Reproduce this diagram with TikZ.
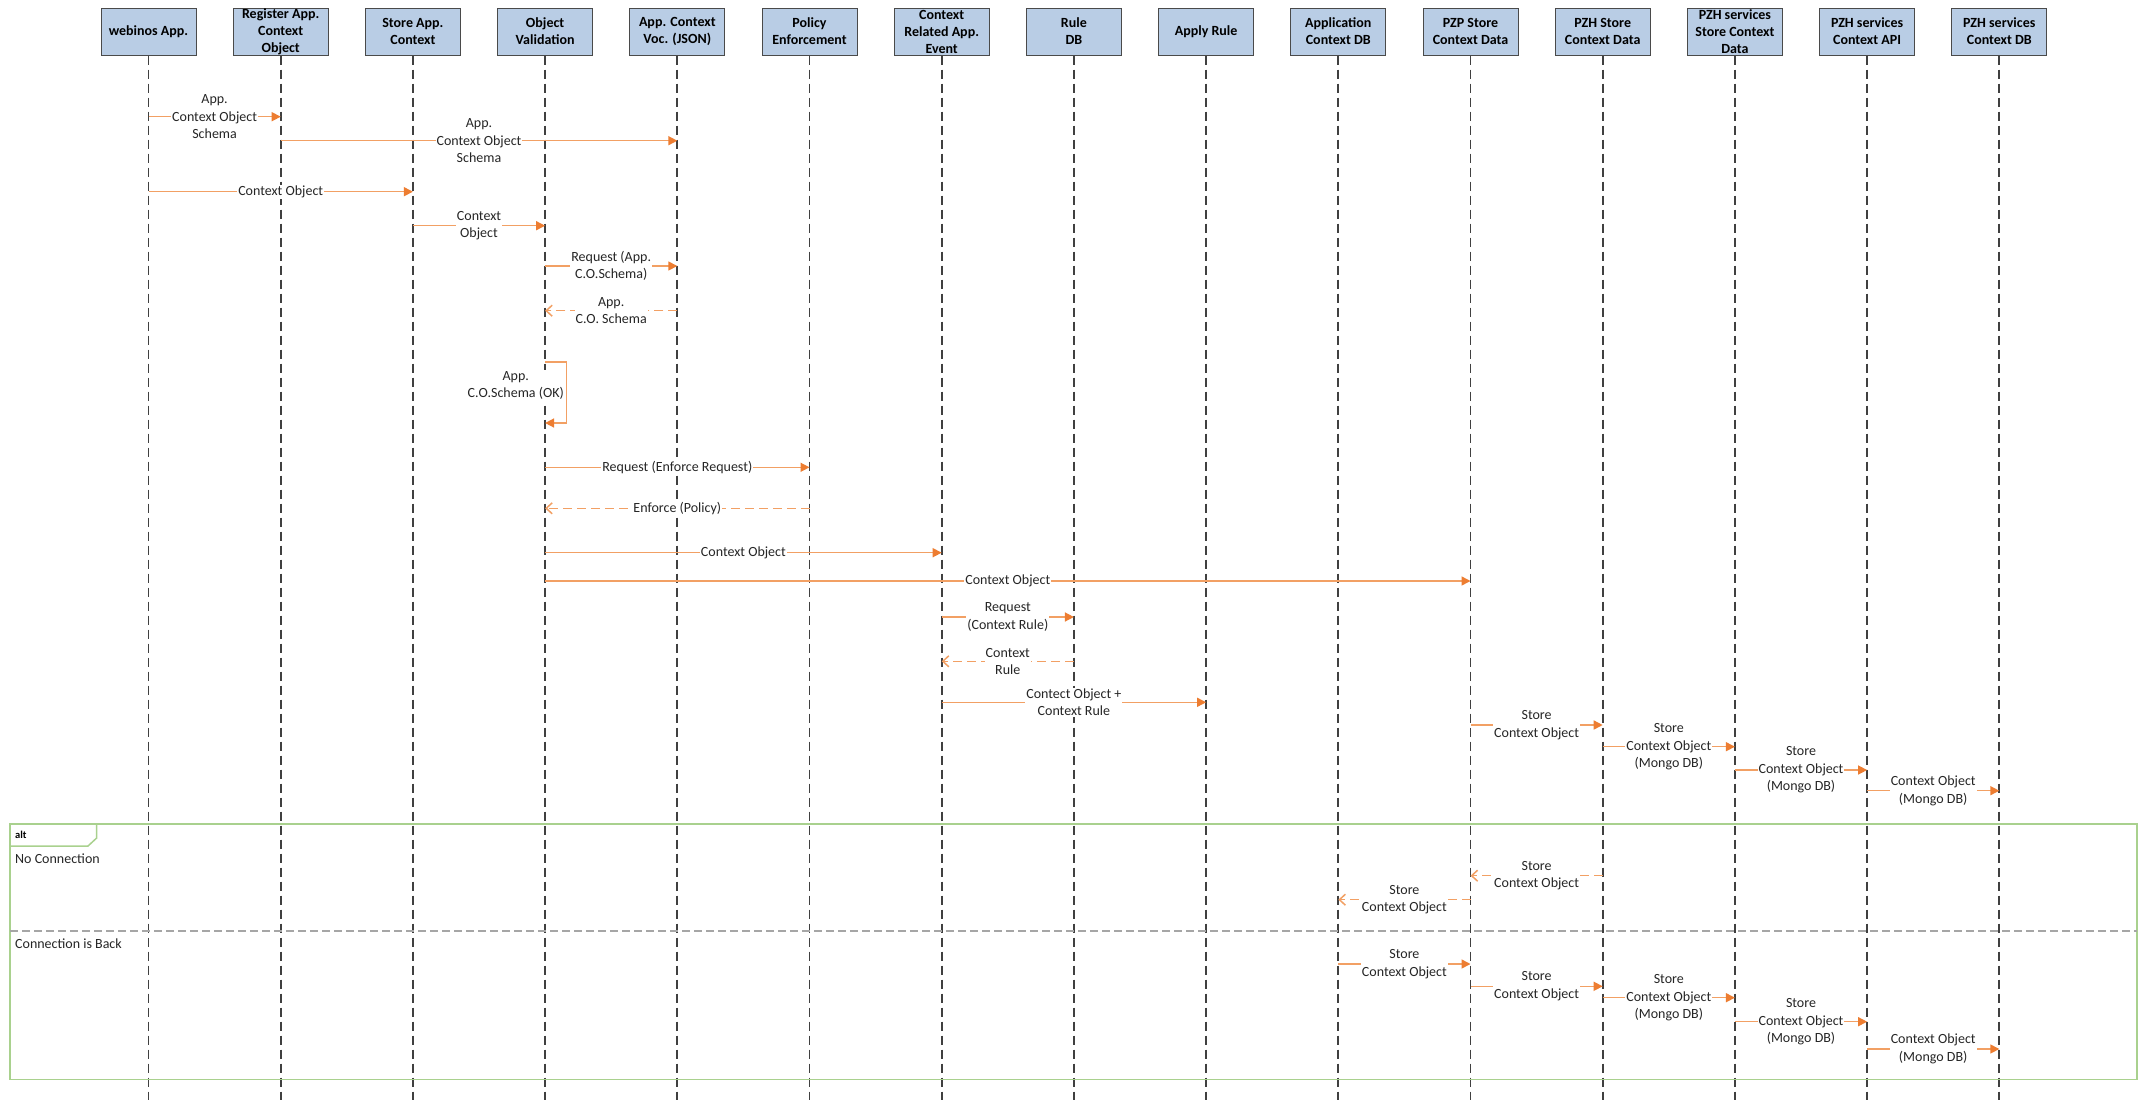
\documentclass[tikz,border=0pt]{standalone}
\usepackage{fontspec}
\setmainfont{Carlito}
\usetikzlibrary{arrows.meta,calc}
\definecolor{boxfill}{HTML}{B9CDE5}
\definecolor{boxline}{HTML}{4A4A4A}
\definecolor{lifec}{HTML}{404040}
\definecolor{msgline}{HTML}{F2A064}
\definecolor{msghead}{HTML}{ED7D31}
\definecolor{framec}{HTML}{A9D18E}
\definecolor{sepc}{HTML}{A6A6A6}
\definecolor{txt}{HTML}{262626}
\newcommand\seqmsg[4]{\draw[msg] (#1 |- 0,#3) -- node[lbl]{#4} (#2 |- 0,#3);}
\newcommand\seqret[4]{\draw[ret] (#1 |- 0,#3) -- node[lbl]{#4} (#2 |- 0,#3);}
\begin{document}
\begin{tikzpicture}[x=1pt,y=-1pt,
  hbox/.style={draw=boxline, line width=1pt, fill=boxfill, minimum width=95pt,
    minimum height=47pt, inner sep=0pt, align=center, text=black,
    font=\fontsize{14}{17}\selectfont\bfseries},
  life/.style={draw=lifec, line width=1.8pt, dash pattern=on 9pt off 5pt},
  msg/.style={draw=msgline, line width=1.5pt,
    -{Triangle[length=9pt,width=9pt,color=msghead]}},
  ret/.style={draw=msgline, line width=1.5pt, dash pattern=on 9pt off 5pt,
    -{Straight Barb[length=6pt,width=11pt,color=msgline]}},
  lbl/.style={fill=white, inner sep=1pt, align=center, text=txt,
    font=\fontsize{14}{17.5}\selectfont},
  frametxt/.style={anchor=west, inner sep=0pt, text=txt,
    font=\fontsize{14}{17}\selectfont}]
\useasboundingbox (0,0) rectangle (2147,1100);
\fill[white] (0,0) rectangle (2147,1100);

% lifeline heads
\foreach \i/\t in {0/{webinos App.},
  1/{Register App.\\Context\\Object},
  2/{Store App.\\Context},
  3/{Object\\Validation},
  4/{App. Context\\Voc. (JSON)},
  5/{Policy\\Enforcement},
  6/{Context\\Related App.\\Event},
  7/{Rule\\DB},
  8/{Apply Rule},
  9/{Application\\Context DB},
  10/{PZP Store\\Context Data},
  11/{PZH Store\\Context Data},
  12/{PZH services\\Store Context\\Data},
  13/{PZH services\\Context API},
  14/{PZH services\\Context DB}}
  \node[hbox] (b\i) at ({148.5+132.2*\i}, 31.5) {\t};

% lifelines
\foreach \i in {0,...,14}
  \draw[life] (b\i.south) -- (b\i |- 0,1100);

% alt frame
\draw[framec, line width=1.5pt] (10,824) rectangle (2137,1079.5);
\draw[framec, line width=1.5pt] (10,846) -- (88,846) -- (96.7,838) -- (96.7,824);
\node[anchor=west, inner sep=0pt, text=black, font=\fontsize{10.5}{12}\selectfont\bfseries] (altl) at (15,835) {alt};
\draw[sepc, line width=1.5pt, dash pattern=on 8pt off 4pt] (10,931) -- (2137,931);
\node[frametxt] (g1) at (15,859) {No Connection};
\node[frametxt] (g2) at (15,944) {Connection is Back};

% messages
\seqmsg{b0}{b1}{116.7}{App.\\Context Object\\Schema}
\seqmsg{b1}{b4}{140.7}{App.\\Context Object\\Schema}
\seqmsg{b0}{b2}{191.7}{Context Object}
\seqmsg{b2}{b3}{225.7}{Context\\Object}
\seqmsg{b3}{b4}{266}{Request (App.\\C.O.Schema)}
\seqret{b4}{b3}{310.7}{App.\\C.O. Schema}

% self message
\coordinate (s1) at (b3 |- 0,362);
\coordinate (s2) at (b3 |- 0,423);
\draw[msg] (s1) -- ++(21.5,0) -- ++(0,61) -- (s2);
\node[lbl, anchor=east] (sl) at ($(s1)+(20,23.5)$) {App.\\C.O.Schema (OK)};

\seqmsg{b3}{b5}{467.3}{Request (Enforce Request)}
\seqret{b5}{b3}{508.3}{Enforce (Policy)}
\seqmsg{b3}{b6}{552.7}{Context Object}
\seqmsg{b3}{b10}{581}{Context Object}
\seqmsg{b6}{b7}{617}{Request\\(Context Rule)}
\seqret{b7}{b6}{661.3}{Context\\Rule}
\seqmsg{b6}{b8}{702.3}{Contect Object +\\Context Rule}
\seqmsg{b10}{b11}{725}{Store\\Context Object}
\seqmsg{b11}{b12}{746.7}{Store\\Context Object\\(Mongo DB)}
\seqmsg{b12}{b13}{770}{Store\\Context Object\\(Mongo DB)}
\seqmsg{b13}{b14}{790.7}{Context Object\\(Mongo DB)}

% alt: no connection
\seqret{b11}{b10}{875.7}{Store\\Context Object}
\seqret{b10}{b9}{899.7}{Store\\Context Object}

% alt: connection is back
\seqmsg{b9}{b10}{964}{Store\\Context Object}
\seqmsg{b10}{b11}{986.3}{Store\\Context Object}
\seqmsg{b11}{b12}{997.7}{Store\\Context Object\\(Mongo DB)}
\seqmsg{b12}{b13}{1021.7}{Store\\Context Object\\(Mongo DB)}
\seqmsg{b13}{b14}{1049}{Context Object\\(Mongo DB)}
\end{tikzpicture}
\end{document}
